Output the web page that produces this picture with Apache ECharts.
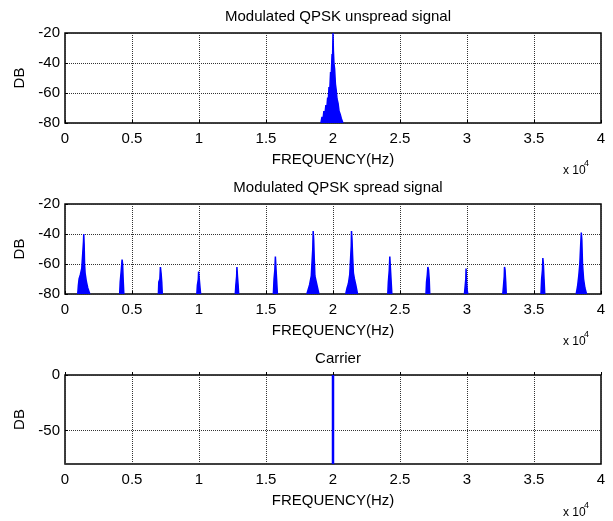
<!DOCTYPE html>
<html>
<head>
<meta charset="utf-8">
<script src="https://cdn.jsdelivr.net/npm/echarts@6/dist/echarts.min.js"></script>
<style>html,body{margin:0;padding:0;background:#fff}#c{width:613px;height:521px}</style>
</head>
<body>
<div id="c"></div>
<script>
const titles = ['Modulated QPSK unspread signal', 'Modulated QPSK spread signal', 'Carrier'];
const xTickValues = [0, 5000, 10000, 15000, 20000, 25000, 30000, 35000, 40000];
const xLabelName = 'FREQUENCY(Hz)';
const yLabelName = 'DB';

// Plot 1: unspread QPSK spectrum [frequency Hz, dB]
const unspread = [
  [19100,-80],[19180,-76],[19250,-78],[19320,-72],[19400,-74],[19470,-68],[19540,-70],
  [19600,-63],[19650,-65],[19700,-56],[19760,-58],[19820,-46],[19870,-48],[19930,-34],
  [19970,-36],[20000,-20],[20030,-32],[20070,-40],[20120,-44],[20180,-54],[20240,-58],
  [20300,-64],[20380,-67],[20450,-72],[20530,-74],[20620,-77],[20740,-80]
];

// Plot 2: spread QPSK spectrum [frequency Hz, dB]; null separates the spikes
const spread = [
  [950,-80],[1000,-74],[1050,-70],[1150,-67],[1250,-63],[1330,-52],[1380,-45],[1400,-40],[1430,-47],[1460,-60],[1500,-66],[1600,-72],[1700,-76],[1850,-80], null,
  [4080,-80],[4120,-72],[4200,-64],[4260,-57],[4300,-60],[4340,-70],[4390,-80], null,
  [6970,-80],[7000,-72],[7080,-70],[7120,-62],[7170,-66],[7220,-72],[7260,-80], null,
  [9840,-80],[9880,-74],[9950,-70],[9970,-65],[10020,-70],[10080,-76],[10120,-80], null,
  [12710,-80],[12750,-74],[12810,-68],[12830,-62],[12870,-68],[12920,-74],[12960,-80], null,
  [15550,-80],[15600,-70],[15660,-64],[15700,-55],[15740,-62],[15790,-70],[15850,-80], null,
  [18050,-80],[18150,-77],[18250,-74],[18380,-68],[18440,-58],[18490,-50],[18520,-38],[18560,-44],[18600,-56],[18650,-68],[18750,-72],[18850,-76],[18950,-80], null,
  [20950,-80],[21050,-76],[21150,-73],[21250,-67],[21320,-55],[21360,-48],[21380,-38],[21420,-44],[21460,-54],[21520,-66],[21600,-70],[21700,-74],[21830,-80], null,
  [24090,-80],[24130,-72],[24200,-64],[24240,-55],[24280,-62],[24330,-70],[24390,-80], null,
  [26940,-80],[26980,-72],[27040,-67],[27080,-62],[27130,-64],[27180,-70],[27220,-80], null,
  [29810,-80],[29850,-76],[29910,-70],[29930,-63],[29970,-72],[30020,-78],[30060,-80], null,
  [32670,-80],[32720,-75],[32780,-68],[32800,-62],[32840,-64],[32890,-72],[32930,-80], null,
  [35520,-80],[35570,-70],[35630,-64],[35660,-56],[35700,-60],[35750,-70],[35800,-80], null,
  [38150,-80],[38250,-75],[38340,-68],[38420,-60],[38480,-48],[38530,-39],[38570,-44],[38620,-60],[38700,-70],[38800,-76],[38920,-80]
];

// Plot 3: carrier line [frequency Hz, dB]
const carrier = [[20000,-80],[20000,0]];

const yRanges = [[-80,-20,20],[-80,-20,20],[-80,0,null]];
const carrierTicks = [-50, 0];

const FONT = 'Arial, "Liberation Sans", sans-serif';
const gridTops = [33, 204, 375];
const gridHeights = [90, 90, 89];

const chart = echarts.init(document.getElementById('c'), null, {renderer:'canvas'});
const grids = [], xAxes = [], yAxes = [], series = [], titleArr = [], graphics = [];
for (let i = 0; i < 3; i++) {
  grids.push({left:65, width:536, top:gridTops[i], height:gridHeights[i], show:true,
    borderColor:'#000', borderWidth:1.5, backgroundColor:'#fff', containLabel:false});
  xAxes.push({type:'value', gridIndex:i, min:0, max:40000, interval:5000,
    axisLine:{show:false}, axisTick:{show:true, inside:true, length:3, lineStyle:{color:'#000'}},
    axisLabel:{color:'#000', fontSize:15, fontFamily:FONT, margin:8, formatter:v => String(v/10000)},
    splitLine:{show:true, lineStyle:{color:'#333', type:[1,1], width:1}},
    name:xLabelName, nameLocation:'middle', nameGap:29,
    nameTextStyle:{color:'#000', fontSize:15, fontFamily:FONT}});
  const r = yRanges[i];
  const y = {type:'value', gridIndex:i, min:r[0], max:r[1],
    axisLine:{show:false}, axisTick:{show:true, inside:true, length:3, lineStyle:{color:'#000'}},
    axisLabel:{color:'#000', fontSize:15, fontFamily:FONT, margin:5},
    splitLine:{show:true, lineStyle:{color:'#333', type:[1,1], width:1}},
    name:yLabelName, nameLocation:'middle', nameGap:36, nameRotate:90,
    nameTextStyle:{color:'#000', fontSize:15, fontFamily:FONT}};
  if (r[2]) { y.interval = r[2]; }
  else {
    y.axisLabel.customValues = carrierTicks;
    y.axisTick.customValues = carrierTicks;
  }
  yAxes.push(y);
  titleArr.push({text:titles[i], left:333, top:gridTops[i]-29, textAlign:'center',
    textStyle:{color:'#000', fontSize:15, fontWeight:'normal', fontFamily:FONT}});
  graphics.push({type:'text', left:563, top:gridTops[i]+132,
    style:{text:'x 10', fill:'#000', font:'12px ' + FONT}});
  graphics.push({type:'text', left:584, top:gridTops[i]+126,
    style:{text:'4', fill:'#000', font:'9px ' + FONT}});
}
series.push({type:'line', xAxisIndex:0, yAxisIndex:0, data:unspread, showSymbol:false,
  lineStyle:{color:'#0000ff', width:1.5}, areaStyle:{color:'#0000ff', opacity:1, origin:'start'},
  clip:true, animation:false, silent:true});
series.push({type:'line', xAxisIndex:1, yAxisIndex:1, data:spread, showSymbol:false, connectNulls:false,
  lineStyle:{color:'#0000ff', width:1.5}, areaStyle:{color:'#0000ff', opacity:1, origin:'start'},
  clip:true, animation:false, silent:true});
series.push({type:'line', xAxisIndex:2, yAxisIndex:2, data:carrier, showSymbol:false,
  lineStyle:{color:'#0000ff', width:2.5}, clip:false, animation:false, silent:true});

chart.setOption({
  animation:false,
  backgroundColor:'#fff',
  title:titleArr,
  grid:grids,
  xAxis:xAxes,
  yAxis:yAxes,
  series:series,
  graphic:graphics
});
</script>
</body>
</html>
